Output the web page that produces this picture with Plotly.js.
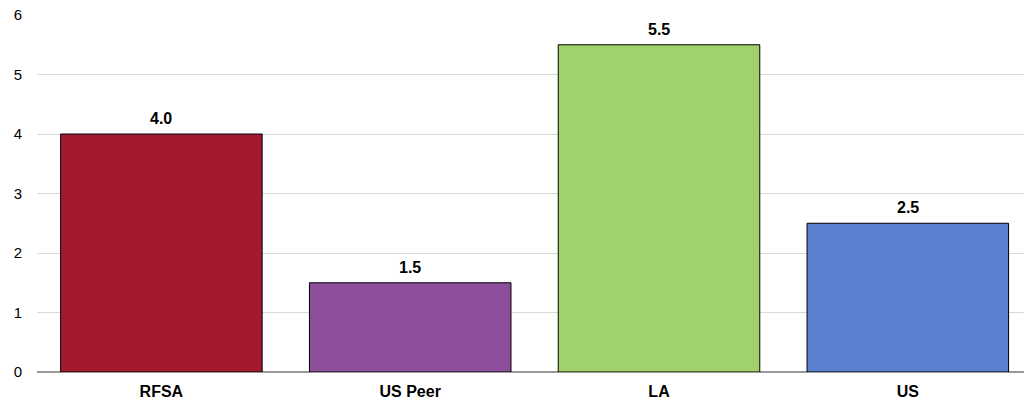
<!DOCTYPE html>
<html><head><meta charset="utf-8">
<script src="https://cdn.plot.ly/plotly-3.0.1.min.js"></script>
<style>body{margin:0;background:#fff}#c{width:1024px;height:407px}</style>
</head><body><div id="c"></div>
<script>
const categories = ["RFSA", "US Peer", "LA", "US"];
const values = [4.0, 1.5, 5.5, 2.5];
const colors = ["#A31A2F", "#8E4F9A", "#A1D16A", "#5981D0"];
const yTicks = [0, 1, 2, 3, 4, 5, 6];
const FONT = "'Liberation Sans Narrow', 'Arial Narrow', 'Liberation Sans', Arial, sans-serif";
Plotly.newPlot('c', [{
  type: 'bar', x: categories, y: values,
  marker: {color: colors, line: {color: '#000', width: 1}},
  hoverinfo: 'skip'
}], {
  width: 1024, height: 407,
  margin: {l: 37, r: 0, t: 15, b: 35},
  paper_bgcolor: '#fff', plot_bgcolor: '#fff',
  bargap: 0.19, showlegend: false,
  font: {family: FONT, color: '#000'},
  annotations: categories.map((c, i) => ({
    x: c, y: values[i], xref: 'x', yref: 'y', text: values[i].toFixed(1),
    showarrow: false, yanchor: 'bottom', yshift: 5,
    font: {family: FONT, size: 16, color: '#000', weight: 'bold'}
  })),
  xaxis: {range: [-0.5, 3.467], tickfont: {family: FONT, size: 16, weight: 'bold'}, showline: false, ticks: '', showgrid: false, ticklabelstandoff: 8},
  yaxis: {range: [0, 6], tickvals: yTicks, ticktext: yTicks.map(String), gridcolor: '#d9d9d9', gridwidth: 1,
    zeroline: true, zerolinecolor: '#999', zerolinewidth: 1.5, showline: false, ticks: '',
    tickfont: {family: FONT, size: 15}, ticklabelstandoff: 14}
}, {displayModeBar: false, staticPlot: true});
</script></body></html>
